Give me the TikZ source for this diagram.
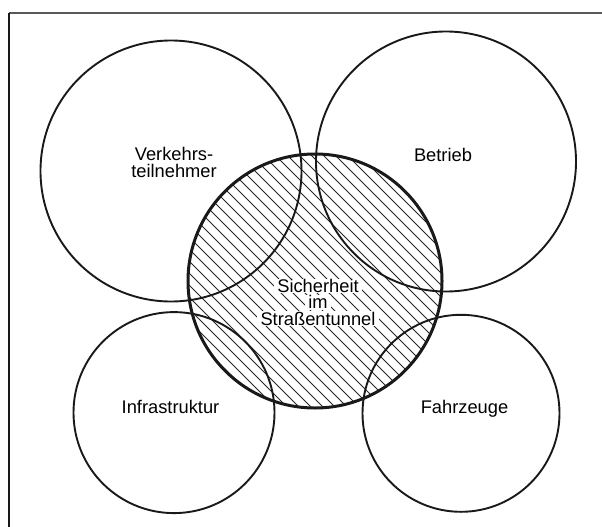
\documentclass[tikz,border=0pt]{standalone}
\usepackage{fontspec}
\setmainfont{Liberation Sans}
% white patch behind a line of text, so the hatching stops short of it
\newcommand\patchline[1]{{\setlength\fboxsep{0.7pt}\colorbox{white}{\hspace{3pt}#1\hspace{3pt}}}}
\begin{document}
\begin{tikzpicture}[x=1pt,y=-1pt,
    ring/.style={draw=black!90, line width=1.9pt},
    corering/.style={draw=black!90, line width=3pt},
    hatchline/.style={draw=black!85, line width=0.9pt},
    label/.style={font=\fontsize{18.3}{17.3}\selectfont, align=center, inner sep=0pt},
    corelabel/.style={font={\fontsize{18.3}{16.2}\selectfont\lineskiplimit=-30pt},
                      align=center, inner sep=0pt, anchor=base}]
  \useasboundingbox (0,0) rectangle (602,527);
  % frame (top and left edges)
  \draw[draw=black!65, line width=1.3pt] (9,13) -- (602,13);
  \draw[draw=black!90, line width=1.3pt] (9,13) -- (9,527);

  % hatching inside the central circle
  \begin{scope}
    \clip (315,281) circle (127);
    \foreach \d in {-156,-144,...,240}
      \draw[hatchline] (\d+140,140) -- (\d+460,460);
  \end{scope}

  % central label (base anchor sits on the last line)
  \node[corelabel] (core) at (318,325.0)
    {\patchline{Sicherheit}\\\patchline{im}\\\patchline{Straßentunnel}};

  % outer circles
  \draw[ring] (171,171) circle (130.5);
  \draw[ring] (446,161.5) circle (130);
  \draw[ring] (174,412.6) circle (100.5);
  \draw[ring] (461,413.3) circle (98.5);
  % central circle
  \draw[corering] (315,281) circle (127);

  % labels
  \node[label, anchor=base] (verk) at (174,177.3) {Verkehrs-\\teilnehmer};
  \node[label, anchor=base] (betr) at (443,161.7) {Betrieb};
  \node[label, anchor=base] (infra) at (170.5,413.3) {Infrastruktur};
  \node[label, anchor=base] (fahr) at (464.5,413.3) {Fahrzeuge};
\end{tikzpicture}
\end{document}
